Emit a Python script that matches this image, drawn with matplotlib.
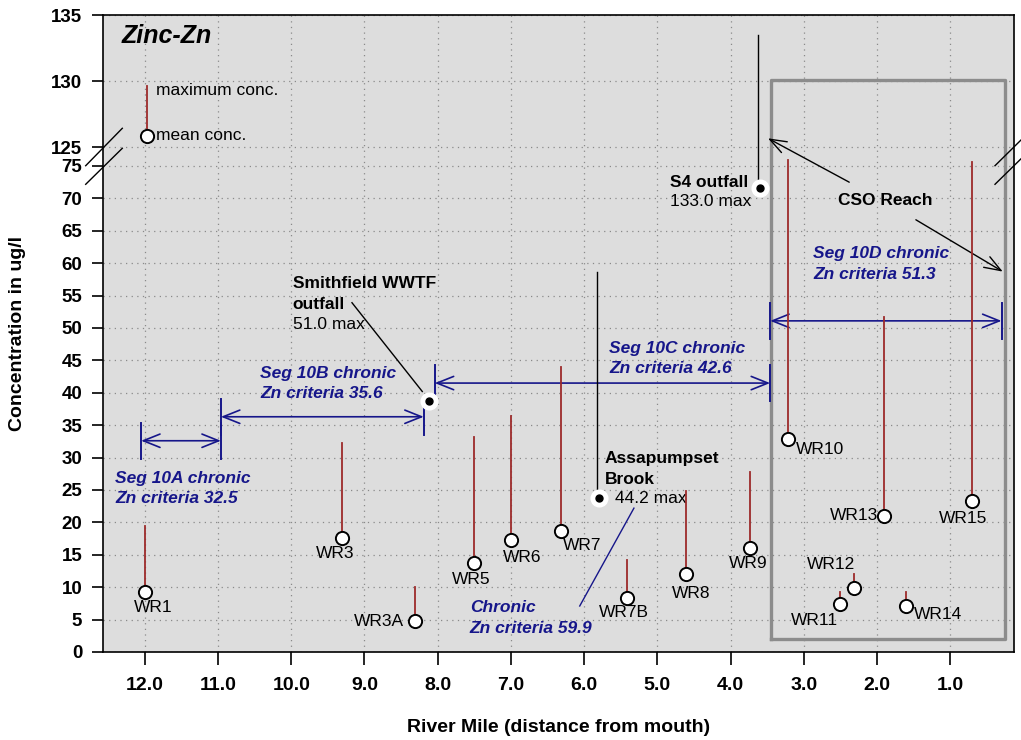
"""Zinc-Zn: concentraciones media / maxima por estacion a lo largo del rio.

Eje Y con corte (0-75 y 125-135), eje X invertido (milla del rio).
Genera out.png.
"""
import matplotlib

matplotlib.use("Agg")
import matplotlib.pyplot as plt
import numpy as np
from matplotlib.lines import Line2D

plt.rcParams["font.family"] = ["Liberation Sans", "DejaVu Sans"]

# --- datos --------------------------------------------------------------
stations = ["WR1", "WR3", "WR3A", "WR5", "WR6", "WR7", "WR7B", "WR8",
            "WR9", "WR10", "WR11", "WR12", "WR13", "WR14", "WR15"]
station_mile = [12.0, 9.30, 8.31, 7.51, 7.00, 6.31, 5.41, 4.61,
                3.74, 3.21, 2.51, 2.31, 1.90, 1.61, 0.70]
mean_conc = [9.3, 17.6, 4.8, 13.8, 17.3, 18.6, 8.4, 12.0,
             16.0, 32.9, 7.4, 9.8, 21.0, 7.1, 23.3]
max_conc = [19.5, 32.3, 10.1, 33.2, 36.4, 44.0, 14.2, 24.9,
            27.8, 75.9, 9.3, 12.0, 51.7, 9.3, 75.6]

# fuentes puntuales (punto negro) y su linea de maximo
sources = ["Smithfield WWTF", "Assapumpset Brook", "S4 outfall"]
source_mile = [8.12, 5.80, 3.60]
source_conc = [38.8, 23.7, 71.6]
source_top = [None, 58.6, 133.5]

# criterios cronicos por segmento
seg_names = ["Seg 10A", "Seg 10B", "Seg 10C", "Seg 10D"]
seg_start = [12.05, 10.96, 8.04, 3.46]
seg_end = [10.96, 8.19, 3.46, 0.30]
seg_level = [32.6, 36.3, 41.5, 51.1]
seg_label = ["Seg 10A chronic\nZn criteria 32.5",
             "Seg 10B chronic\nZn criteria 35.6",
             "Seg 10C chronic\nZn criteria 42.6",
             "Seg 10D chronic\nZn criteria 51.3"]

legend_mile = 11.97
legend_mean = 125.8
legend_max = 129.6

y_ticks = [0, 5, 10, 15, 20, 25, 30, 35, 40, 45, 50, 55, 60, 65, 70, 75,
           125, 130, 135]
x_ticks = [12, 11, 10, 9, 8, 7, 6, 5, 4, 3, 2, 1]

# --- estilos / posiciones ----------------------------------------------
NAVY = "#16168a"
RED = "#9c2a2a"
FS = 12.5
label_offset = {  # en puntos, relativo al circulo
    "WR1": (5.8, -11.3), "WR3": (-5.0, -11.2), "WR3A": (-25.9, -0.7),
    "WR5": (-1.7, -12.2), "WR6": (7.9, -12.5), "WR7": (14.8, -10.4),
    "WR7B": (-2.4, -10.8), "WR8": (3.6, -13.9), "WR9": (-1.2, -11.0),
    "WR10": (22.5, -7.4), "WR11": (-18.0, -11.8), "WR12": (-16.6, 17.3),
    "WR13": (-22.1, 0.0), "WR14": (23.0, -6.0), "WR15": (-6.7, -12.5),
}

# escala con corte: 0-76 lineal, hueco 76-125 comprimido, 125-135 expandido
B0, B1 = 76.0, 125.0
G = 1.929 / 49.0
U = 13.2 / 6.48
D1 = B0 + (B1 - B0) * G


def fwd(y):
    y = np.asarray(y, dtype=float)
    return np.where(y <= B0, y, np.where(y < B1, B0 + (y - B0) * G, D1 + (y - B1) * U))


def inv(d):
    d = np.asarray(d, dtype=float)
    return np.where(d <= B0, d, np.where(d < D1, B0 + (d - B0) / G, B1 + (d - D1) / U))


W, H = 1021, 740
fig = plt.figure(figsize=(W / 100, H / 100), dpi=100)
ax = fig.add_axes([103 / W, 1 - 652 / H, (1014 - 103) / W, (652 - 15) / H])
ax.set_facecolor("#dddddd")
ax.set_yscale("function", functions=(fwd, inv))
ax.set_xlim(12.57, 0.13)
ax.set_ylim(0, 135)
ax.set_yticks(y_ticks)
ax.set_yticklabels([str(t) for t in y_ticks])
ax.set_xticks(x_ticks)
ax.set_xticklabels([f"{t:.1f}" for t in x_ticks])
ax.yaxis.set_minor_locator(matplotlib.ticker.NullLocator())
ax.set_axisbelow(True)
ax.grid(True, color="#8a8a8a", linestyle=(0, (1, 3.5)), linewidth=0.9)
for sp in ax.spines.values():
    sp.set_linewidth(1.2)
ax.tick_params(axis="y", length=8, width=1.2, pad=7, labelsize=13.5)
ax.tick_params(axis="x", length=9, width=1.2, pad=9, labelsize=14)
for lbl in ax.get_xticklabels() + ax.get_yticklabels():
    lbl.set_fontweight("bold")

ax.set_xlabel("River Mile (distance from mouth)", fontsize=14, fontweight="bold")
ax.xaxis.label.set_va("center")
ax.xaxis.set_label_coords(0.5, -0.119)
ax.set_ylabel("Concentration in ug/l", fontsize=14, fontweight="bold")
ax.yaxis.label.set_va("center")
ax.yaxis.set_label_coords((17.5 - 103) / 911, 0.5)

# caja CSO Reach
bx = [3.45, 0.25, 0.25, 3.45, 3.45]
by = [2.0, 2.0, 130.1, 130.1, 2.0]
ax.plot(bx, by, color="#8c8c8c", lw=2.4, zorder=2)

# criterios cronicos
for s0, s1, lev in zip(seg_start, seg_end, seg_level):
    ax.annotate("", xy=(s1, lev), xytext=(s0, lev),
                arrowprops=dict(arrowstyle="<->,head_length=0.6,head_width=0.24",
                                color=NAVY, lw=1.2, shrinkA=0, shrinkB=0,
                                mutation_scale=20), zorder=3)
    for s in (s0, s1):
        ax.plot([s, s], [lev - 2.8, lev + 2.8], color=NAVY, lw=1.4, zorder=3)

seg_text_pos = [(12.40, 25.2), (10.42, 41.4), (5.66, 45.3), (2.87, 59.9)]
for (tx, ty), txt in zip(seg_text_pos, seg_label):
    ax.text(tx, ty, txt, color=NAVY, fontsize=FS, fontweight="bold",
            fontstyle="italic", ha="left", va="center", linespacing=1.45, zorder=5)

ax.text(7.56, 5.25, "Chronic\nZn criteria 59.9", color=NAVY, fontsize=FS,
        fontweight="bold", fontstyle="italic", ha="left", va="center",
        linespacing=1.45, zorder=5)
ax.plot([6.06, 5.32], [7.1, 22.2], color=NAVY, lw=1.0, zorder=3)

# estaciones: linea de maximo + circulo de media
for name, m, mu, mx in zip(stations, station_mile, mean_conc, max_conc):
    ax.plot([m, m], [mu, mx], color=RED, lw=1.3, zorder=4)
    ax.plot(m, mu, "o", ms=9.5, mfc="white", mec="black", mew=1.4, zorder=6)
    ax.annotate(name, xy=(m, mu), xytext=label_offset[name],
                textcoords="offset points", ha="center", va="center",
                fontsize=FS, zorder=7)

# leyenda de media / maximo
ax.plot([legend_mile, legend_mile], [legend_mean, legend_max], color=RED, lw=1.3, zorder=4)
ax.plot(legend_mile, legend_mean, "o", ms=9.5, mfc="white", mec="black", mew=1.4, zorder=6)
ax.text(11.84, 129.3, "maximum conc.", fontsize=FS, va="center", ha="left")
ax.text(11.84, 125.9, "mean conc.", fontsize=FS, va="center", ha="left")

# fuentes puntuales
for m, c, top in zip(source_mile, source_conc, source_top):
    if top is not None:
        ax.plot([m + 0.02, m + 0.02], [c, top], color="black", lw=1.0, zorder=4)
    ax.plot(m, c, "o", ms=12, mfc="white", mec="white", zorder=6)
    ax.plot(m, c, "o", ms=5, color="black", zorder=7)

ax.text(9.98, 55.3, "Smithfield WWTF\noutfall", fontsize=FS, fontweight="bold",
        ha="left", va="center", linespacing=1.5)
ax.text(9.98, 50.6, "51.0 max", fontsize=FS, ha="left", va="center")
ax.plot([9.17, 8.21], [53.9, 40.2], color="black", lw=1.0, zorder=4)

ax.text(5.72, 28.3, "Assapumpset\nBrook", fontsize=FS, fontweight="bold",
        ha="left", va="center", linespacing=1.5)
ax.text(5.58, 23.7, "44.2 max", fontsize=FS, ha="left", va="center")

ax.text(4.83, 72.4, "S4 outfall", fontsize=FS, fontweight="bold", ha="left", va="center")
ax.text(4.83, 69.5, "133.0 max", fontsize=FS, ha="left", va="center")

ax.text(1.89, 69.6, "CSO Reach", fontsize=FS, fontweight="bold", ha="center", va="center")
for tail, head in [((2.38, 72.5), (3.49, 125.66)), ((1.47, 66.7), (0.283, 58.7))]:
    ax.annotate("", xy=head, xytext=tail,
                arrowprops=dict(arrowstyle="->,head_length=0.6,head_width=0.22",
                                color="black", lw=1.0, shrinkA=0, shrinkB=0,
                                mutation_scale=20))

ax.text(0.0205, 0.967, "Zinc-Zn", transform=ax.transAxes, fontsize=18,
        fontweight="bold", fontstyle="italic", ha="left", va="center")

# marcas del corte del eje
def fig_px(x, y):
    return x / W, 1 - y / H


for (x0, y0), (x1, y1) in [((85.7, 165.7), (122.3, 128.3)),
                           ((85.7, 184.3), (122.3, 148.3)),
                           ((995, 165.7), (1030, 131.1)),
                           ((995, 184.3), (1030, 150.0))]:
    a, b = fig_px(x0, y0)
    c, d = fig_px(x1, y1)
    fig.add_artist(Line2D([a, c], [b, d], color="black", lw=1.0))

fig.savefig("out.png", dpi=100)
